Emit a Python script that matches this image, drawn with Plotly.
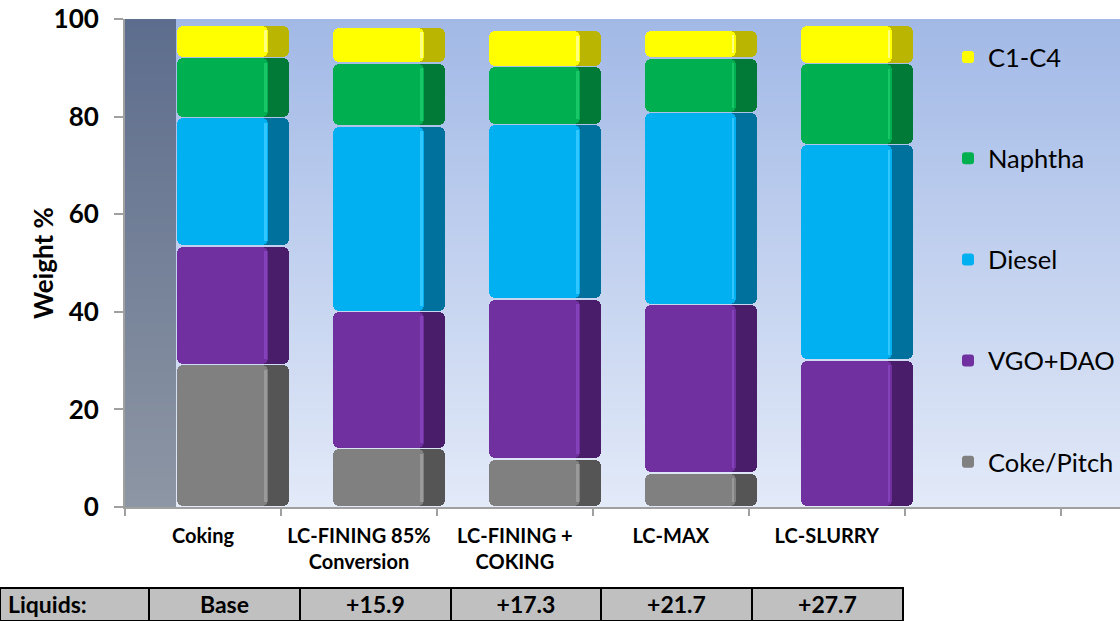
import base64
import struct
import zlib

import plotly.graph_objects as go

# ---------------- data ----------------
categories = ["Coking", "LC-FINING 85%<br>Conversion", "LC-FINING +<br>COKING", "LC-MAX", "LC-SLURRY"]
series_names = ["Coke/Pitch", "VGO+DAO", "Diesel", "Naphtha", "C1-C4"]
coke_pitch = [29.2, 12.0, 9.8, 7.0, 0.0]
vgo_dao = [24.3, 28.1, 32.8, 34.5, 30.1]
diesel = [26.3, 38.0, 35.8, 39.3, 44.2]
naphtha = [12.3, 12.9, 11.9, 11.2, 16.6]
c1_c4 = [6.7, 7.4, 7.3, 5.7, 7.9]
table_label = "Liquids:"
liquids = ["Base", "+15.9", "+17.3", "+21.7", "+27.7"]
y_ticks = [0, 20, 40, 60, 80, 100]

series_values = [coke_pitch, vgo_dao, diesel, naphtha, c1_c4]
front_colors = ["#808080", "#7030A0", "#00B0F0", "#00B050", "#FFFF00"]
side_colors = ["#555555", "#4A1D6A", "#00709C", "#007A36", "#BAB500"]
edge_colors = ["#9A9A9A", "#8442BA", "#30C6FF", "#18C868", "#FFFF80"]

FONT = "Lato"
GAP = 0.3          # visual gap between stacked blocks (axis units)
OFFSET = -0.167
W_SIDE = 0.718
W_FRONT = 0.587
W_EDGE = 0.018
YMAX = 100

# plot area in pixels (figure 1120 x 621)
PX_L, PX_R, PX_T, PX_B = 125, 1120, 19, 507
FW, FH = 1120, 621
XD = [PX_L / FW, PX_R / FW]
YD = [1 - PX_B / FH, 1 - PX_T / FH]


def gradient_png(top, bottom, h=128):
    raw = b""
    for i in range(h):
        t = i / (h - 1)
        raw += b"\x00" + bytes(round(a + (b - a) * t) for a, b in zip(top, bottom))

    def chunk(tag, data):
        c = struct.pack(">I", len(data)) + tag + data
        return c + struct.pack(">I", zlib.crc32(tag + data) & 0xFFFFFFFF)

    png = (b"\x89PNG\r\n\x1a\n"
           + chunk(b"IHDR", struct.pack(">IIBBBBB", 1, h, 8, 2, 0, 0, 0))
           + chunk(b"IDAT", zlib.compress(raw))
           + chunk(b"IEND", b""))
    return "data:image/png;base64," + base64.b64encode(png).decode()


fig = go.Figure()

cum = [0.0] * len(categories)
for k, (name, vals) in enumerate(zip(series_names, series_values)):
    heights = [max(v - GAP, 0) for v in vals]
    bottoms = [c + GAP / 2 for c in cum]
    faces = (
        ("side", side_colors[k], OFFSET, W_SIDE, 6),
        ("front", front_colors[k], OFFSET, W_FRONT, 6),
        ("edge", edge_colors[k], OFFSET + W_FRONT - W_EDGE - 0.012, W_EDGE, 0),
    )
    for face, color, off, width, rad in faces:
        inset = 0.9 if face == "edge" else 0
        fig.add_trace(go.Bar(
            x=categories,
            y=[max(h - 2 * inset, 0) for h in heights],
            base=[b + inset for b in bottoms],
            offset=off,
            width=width,
            name=name,
            legendgroup=name,
            legendrank=len(series_names) - k,
            showlegend=(face == "front"),
            marker=dict(color=color, line=dict(width=0), cornerradius=rad),
            hoverinfo="skip",
        ))
    cum = [c + v for c, v in zip(cum, vals)]

fig.add_trace(go.Table(
    domain=dict(x=[0, 903 / FW], y=[0, 33 / FH]),
    columnwidth=[149, 151, 151, 150, 151, 151],
    header=dict(
        values=[table_label] + liquids,
        fill_color="#C0C0C0",
        line=dict(color="black", width=2),
        align=["left"] + ["center"] * len(liquids),
        font=dict(family=FONT, size=23, color="black", weight="bold"),
        height=33,
    ),
    cells=dict(values=[[] for _ in range(len(liquids) + 1)]),
))

tick_style = dict(ticks="outside", tickwidth=2, tickcolor="#A0A0A0", automargin=False,
                  showline=True, linecolor="#A0A0A0", linewidth=2, showgrid=False)

fig.update_layout(
    width=FW,
    height=FH,
    margin=dict(l=0, r=0, t=0, b=0, autoexpand=False),
    paper_bgcolor="white",
    plot_bgcolor="rgba(0,0,0,0)",
    barmode="overlay",
    bargap=0,
    showlegend=True,
    legend=dict(
        x=948 / FW, y=1 - 34 / FH, xanchor="left", yanchor="top",
        bgcolor="rgba(0,0,0,0)",
        font=dict(family=FONT, size=25.5, color="black"),
        tracegroupgap=65,
        traceorder="grouped",
    ),
    images=[
        dict(source=gradient_png((162, 185, 230), (227, 234, 248)), xref="paper", yref="paper",
             x=XD[0], y=YD[1], sizex=XD[1] - XD[0], sizey=YD[1] - YD[0],
             sizing="stretch", layer="below"),
        dict(source=gradient_png((93, 109, 141), (141, 150, 164)), xref="paper", yref="paper",
             x=XD[0], y=YD[1], sizex=51 / FW, sizey=YD[1] - YD[0],
             sizing="stretch", layer="below"),
    ],
    annotations=[
        dict(text="Weight %", textangle=-90, xref="paper", yref="paper",
             x=43 / FW, y=1 - 263 / FH, xanchor="center", yanchor="middle", showarrow=False,
             font=dict(family=FONT, size=26, color="black", weight="bold")),
    ],
    xaxis=dict(
        domain=XD,
        type="category",
        categoryorder="array",
        categoryarray=categories + [" "],
        range=[-0.5, 5.88],
        tickson="boundaries",
        ticklen=7,
        ticklabelstandoff=10,
        tickfont=dict(family=FONT, size=20, color="black", weight="bold"),
        **tick_style,
    ),
    yaxis=dict(
        domain=YD,
        range=[0, YMAX],
        tickvals=y_ticks,
        ticklen=9,
        zeroline=False,
        ticklabelstandoff=10,
        tickfont=dict(family=FONT, size=26, color="black", weight="bold"),
        **tick_style,
    ),
)

fig.write_html("out.html")
